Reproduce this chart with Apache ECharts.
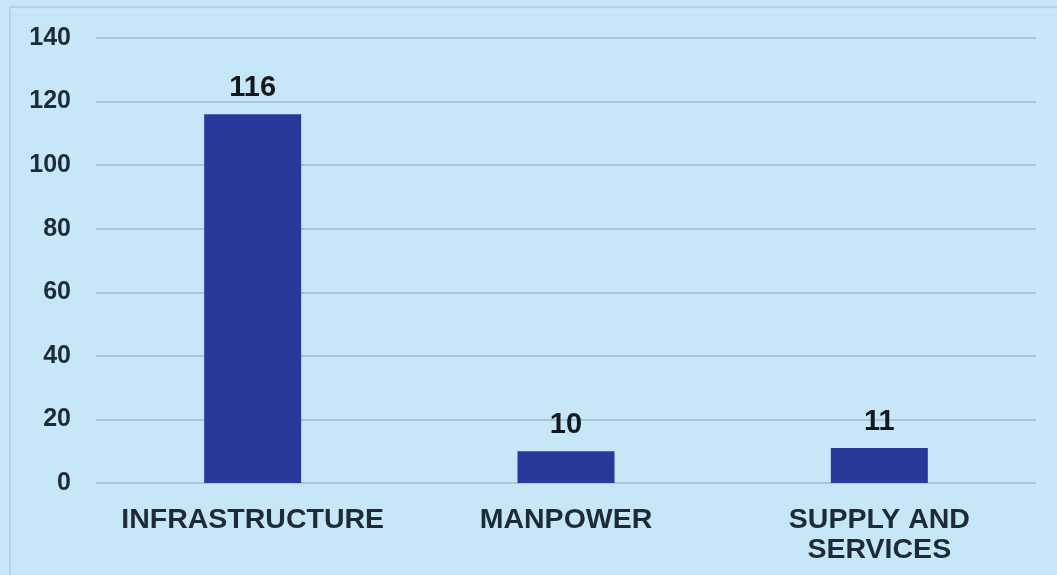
<!DOCTYPE html>
<html><head><meta charset="utf-8">
<script src="https://cdn.jsdelivr.net/npm/echarts@6/dist/echarts.min.js"></script>
<style>html,body{margin:0;padding:0;background:#c6e7f8;}#c{width:1057px;height:575px;}</style>
</head><body><div id="c"></div>
<script>
const categories = ['INFRASTRUCTURE', 'MANPOWER', 'SUPPLY AND\nSERVICES'];
const values = [116, 10, 11];
const yTicks = [0, 20, 40, 60, 80, 100, 120, 140];

const chart = echarts.init(document.getElementById('c'));
chart.setOption({
  backgroundColor: '#c6e7f8',
  animation: false,
  graphic: [
    {type: 'rect', shape: {x: 10, y: 7, width: 1060, height: 600}, style: {fill: 'none', stroke: '#b3d4e8', lineWidth: 2}, silent: true},
    {type: 'line', shape: {x1: 10, y1: 15, x2: 1057, y2: 15}, style: {stroke: '#bcdcee', lineWidth: 1}, silent: true}
  ],
  grid: {left: 96, right: 21, top: 38, bottom: 92, containLabel: false},
  xAxis: {
    type: 'category', data: categories,
    axisLine: {show: false}, axisTick: {show: false},
    axisLabel: {interval: 0, hideOverlap: false, fontFamily: 'Liberation Sans, Arial, sans-serif', fontWeight: 'bold', fontSize: 28.5, color: '#1e2b36', margin: 22, lineHeight: 30}
  },
  yAxis: {
    type: 'value', min: yTicks[0], max: yTicks[yTicks.length-1], interval: 20,
    axisLine: {show: false}, axisTick: {show: false},
    splitLine: {lineStyle: {color: '#a6c6da', width: 2}},
    axisLabel: {fontFamily: 'Liberation Sans, Arial, sans-serif', fontWeight: 'bold', fontSize: 25, color: '#1e2b36', margin: 25}
  },
  series: [{
    type: 'bar', data: values, barWidth: 97,
    itemStyle: {color: '#27399a'},
    label: {show: true, position: 'top', distance: 12, fontFamily: 'Liberation Sans, Arial, sans-serif', fontWeight: 'bold', fontSize: 29, color: '#15191d'}
  }]
});
</script></body></html>
